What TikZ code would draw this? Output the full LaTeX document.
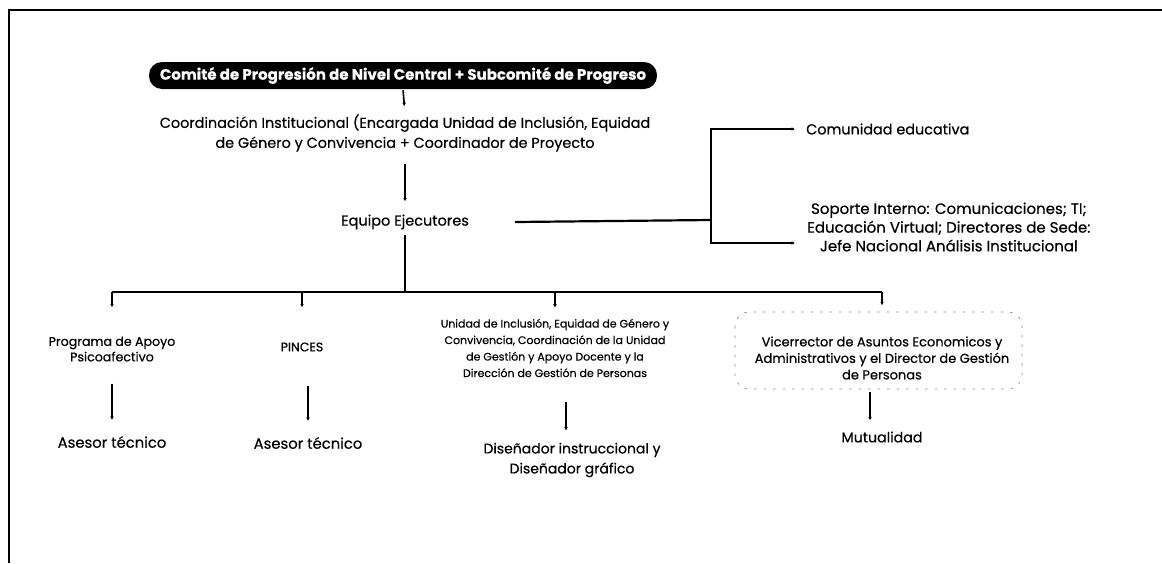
\documentclass[tikz,border=0pt]{standalone}
\usepackage{fontspec}
\setmainfont{Poppins}[FakeBold=0.5]
\usetikzlibrary{arrows.meta}
\begin{document}
\begin{tikzpicture}[x=1pt,y=-1pt,
  txt/.style={inner sep=0pt, align=center, text=black},
  conn/.style={line width=1.6pt, -{Latex[length=3.5pt,width=3.8pt]}},
  bus/.style={line width=2.2pt},
  ghost/.style={draw=black!45, dash pattern=on 2.5pt off 7pt, rounded corners=14pt, line width=0.7pt}]
\useasboundingbox (0,0) rectangle (1162,563);
\draw[line width=1.6pt] (9,563) -- (9,10) -- (1162,10);

\node[fill=black, text=white, rounded corners=13pt, minimum width=508pt, minimum height=27pt, inner sep=0pt,
  font=\fontsize{15}{17}\selectfont\bfseries] (pill) at (403,75.5)
  {Comité de Progresión de Nivel Central + Subcomité de Progreso};

\node[txt, font=\fontsize{14.4}{20}\selectfont] (coord) at (405,133)
  {Coordinación Institucional (Encargada Unidad de Inclusión, Equidad\\de Género y Convivencia + Coordinador de Proyecto};

\node[txt, minimum width=220pt, font=\fontsize{14.5}{16}\selectfont] (equipo) at (405,222) {Equipo Ejecutores};
\coordinate (jr) at (711,220);

\node[txt, anchor=west, inner xsep=11pt, font=\fontsize{14.4}{16}\selectfont] (comu) at (795,129) {Comunidad educativa};
\node[txt, anchor=west, inner xsep=12pt, font=\fontsize{15}{18.7}\selectfont] (sop) at (795,227)
  {Soporte Interno: Comunicaciones; TI;\\Educación Virtual; Directores de Sede:\\Jefe Nacional Análisis Institucional};

\node[txt, font=\fontsize{12.6}{15.5}\selectfont] (prog) at (112,349) {Programa de Apoyo\\Psicoafectivo};
\node[txt, font=\fontsize{12.5}{14}\selectfont] (pinces) at (302,347) {PINCES};
\node[txt, font=\fontsize{11}{16.5}\selectfont] (unidad) at (555,348)
  {Unidad de Inclusión, Equidad de Género y\\Convivencia, Coordinación de la Unidad\\de Gestión y Apoyo Docente y la\\Dirección de Gestión de Personas};
\node[txt, font=\fontsize{13}{16.5}\selectfont] (vice) at (882,358)
  {Vicerrector de Asuntos Economicos y\\Administrativos y el Director de Gestión\\de Personas};
\draw[ghost] (735,312) rectangle (1022,389);

\node[txt, font=\fontsize{14.8}{16}\selectfont] (ase1) at (112,442) {Asesor técnico};
\node[txt, font=\fontsize{14.8}{16}\selectfont] (ase2) at (308,443) {Asesor técnico};
\node[txt, font=\fontsize{14}{20}\selectfont] (dis) at (572,460) {Diseñador instruccional y\\Diseñador gráfico};
\node[txt, font=\fontsize{14.2}{16}\selectfont] (mut) at (882,437) {Mutualidad};

% top connectors
\draw[conn, shorten <=1pt, shorten >=8pt] (pill.south) -- (coord.north);
\draw[conn, shorten <=12pt, shorten >=13pt] (coord.south) -- (equipo.north);

% right branch
\draw[bus] (equipo.east) -- (jr);
\draw[conn, line width=1.9pt] (jr) |- (comu.west);
\draw[conn, line width=1.9pt] (jr) |- ([yshift=-16pt]sop.west);

% tree
\coordinate (tb) at (405,292);
\draw[bus, shorten <=5pt] (equipo.south) -- (tb);
\draw[bus] (prog.north |- tb) -- (vice.north |- tb);
\draw[conn, shorten >=29pt] (prog.north |- tb) -- (prog.north);
\draw[conn, shorten >=35pt] (pinces.north |- tb) -- (pinces.north);
\draw[conn, shorten >=11pt] (unidad.north |- tb) -- (unidad.north);
\draw[conn, shorten >=31pt] (vice.north |- tb) -- (vice.north);

% lower connectors
\draw[conn, shorten <=22pt, shorten >=16pt] (prog.south) -- (ase1.north);
\draw[conn, shorten <=34pt, shorten >=16pt] (ase2.north |- pinces.south) -- (ase2.north);
\draw[conn, shorten <=25pt, shorten >=12pt] ([xshift=-6pt]dis.north |- unidad.south) -- ([xshift=-6pt]dis.north);
\draw[conn, shorten <=12pt, shorten >=11pt] ([xshift=-12pt]vice.south) -- ([xshift=-12pt]mut.north);
\end{tikzpicture}
\end{document}
